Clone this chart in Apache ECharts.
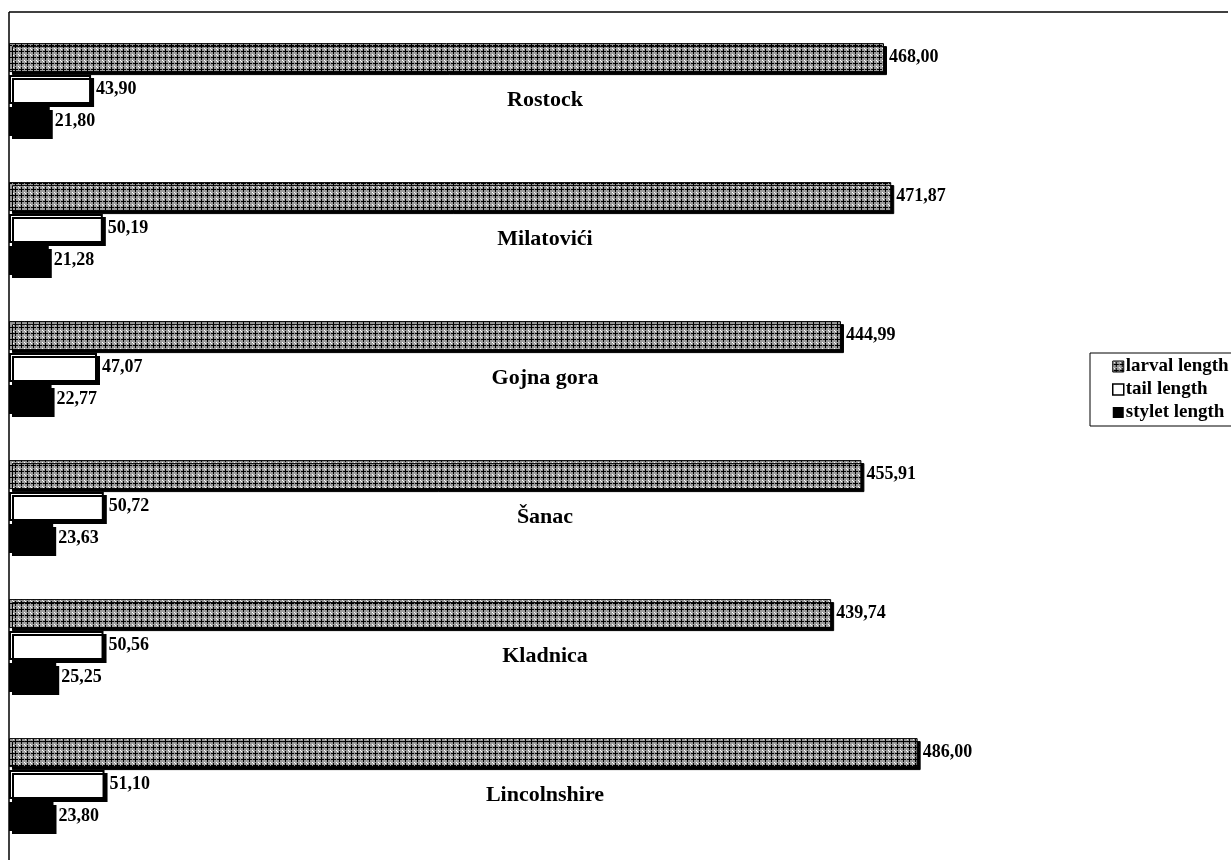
<!DOCTYPE html>
<html>
<head>
<meta charset="utf-8">
<script src="https://cdn.jsdelivr.net/npm/echarts@6/dist/echarts.min.js"></script>
<style>
  html, body { margin: 0; padding: 0; background: #fff; }
  #chart { width: 1231px; height: 860px; }
</style>
</head>
<body>
<div id="chart"></div>
<script>
// data
const categories = ['Rostock', 'Milatovići', 'Gojna gora', 'Šanac', 'Kladnica', 'Lincolnshire'];
const larvalLength = [468.00, 471.87, 444.99, 455.91, 439.74, 486.00];
const tailLength = [43.90, 50.19, 47.07, 50.72, 50.56, 51.10];
const styletLength = [21.80, 21.28, 22.77, 23.63, 25.25, 23.80];
const seriesNames = ['larval length', 'tail length', 'stylet length'];

// crosshatch pattern for larval bars
function makePattern() {
  const c = document.createElement('canvas');
  c.width = 6; c.height = 6;
  const ctx = c.getContext('2d');
  ctx.fillStyle = '#9c9c9c';
  ctx.fillRect(0, 0, 6, 6);
  ctx.fillStyle = '#000';
  ctx.fillRect(3, 1, 1, 5);
  ctx.fillRect(1, 3, 5, 1);
  ctx.fillStyle = '#fff';
  ctx.fillRect(0, 0, 1, 1);
  ctx.fillRect(1, 1, 1, 1);
  return { image: c, repeat: 'repeat' };
}

const fmt = v => v.toFixed(2).replace('.', ',');
const font = '"Liberation Serif", "DejaVu Serif", serif';

const valueLabel = {
  show: true,
  position: 'right',
  distance: 5,
  color: '#000',
  fontFamily: font,
  fontWeight: 'bold',
  fontSize: 18,
  formatter: p => fmt(p.value)
};

const shadow = { shadowColor: '#000', shadowBlur: 0, shadowOffsetX: 3, shadowOffsetY: 3 };
const noShadow = { shadowBlur: 0, shadowOffsetX: 0, shadowOffsetY: 0, shadowColor: 'transparent' };

const chart = echarts.init(document.getElementById('chart'), null, { renderer: 'canvas' });

chart.setOption({
  backgroundColor: '#fff',
  animation: false,
  grid: { left: 9, top: 20, width: 1219, height: 834, containLabel: false },
  xAxis: {
    type: 'value',
    min: 0,
    max: 652,
    show: false
  },
  yAxis: {
    type: 'category',
    data: categories,
    inverse: true,
    axisLine: { show: false },
    axisTick: { show: false },
    axisLabel: {
      inside: true,
      margin: 536,
      align: 'center',
      verticalAlign: 'top',
      color: '#000',
      fontFamily: font,
      fontWeight: 'bold',
      fontSize: 22
    }
  },
  legend: {
    orient: 'vertical',
    left: 1090,
    top: 353,
    padding: [4, 40, 4, 22],
    borderColor: '#000',
    borderWidth: 1,
    itemWidth: 11,
    itemHeight: 11,
    itemGap: 4,
    textStyle: { color: '#000', fontFamily: font, fontWeight: 'bold', fontSize: 19, padding: [0, 0, 0, -3] },
    data: [
      { name: seriesNames[0], icon: 'rect', itemStyle: Object.assign({ borderColor: '#000', borderWidth: 1 }, noShadow) },
      { name: seriesNames[1], icon: 'rect', itemStyle: Object.assign({ borderColor: '#000', borderWidth: 1.5 }, noShadow) },
      { name: seriesNames[2], icon: 'rect', itemStyle: Object.assign({}, noShadow) }
    ]
  },
  graphic: [
    { type: 'line', shape: { x1: 9, y1: 12, x2: 1228, y2: 12 }, style: { stroke: '#000', lineWidth: 1.5 }, silent: true },
    { type: 'line', shape: { x1: 9, y1: 12, x2: 9, y2: 860 }, style: { stroke: '#000', lineWidth: 1.5 }, silent: true }
  ],
  series: [
    {
      name: seriesNames[0],
      type: 'bar',
      data: larvalLength,
      barWidth: 29,
      barGap: '10%',
      itemStyle: Object.assign({ color: makePattern(), borderColor: '#000', borderWidth: 1 }, shadow),
      label: valueLabel
    },
    {
      name: seriesNames[1],
      type: 'bar',
      data: tailLength,
      barWidth: 29,
      barGap: '10%',
      itemStyle: Object.assign({ color: '#fff', borderColor: '#000', borderWidth: 2 }, shadow),
      label: valueLabel
    },
    {
      name: seriesNames[2],
      type: 'bar',
      data: styletLength,
      barWidth: 29,
      barGap: '10%',
      itemStyle: Object.assign({ color: '#000' }, shadow),
      label: valueLabel
    }
  ]
});
</script>
</body>
</html>
